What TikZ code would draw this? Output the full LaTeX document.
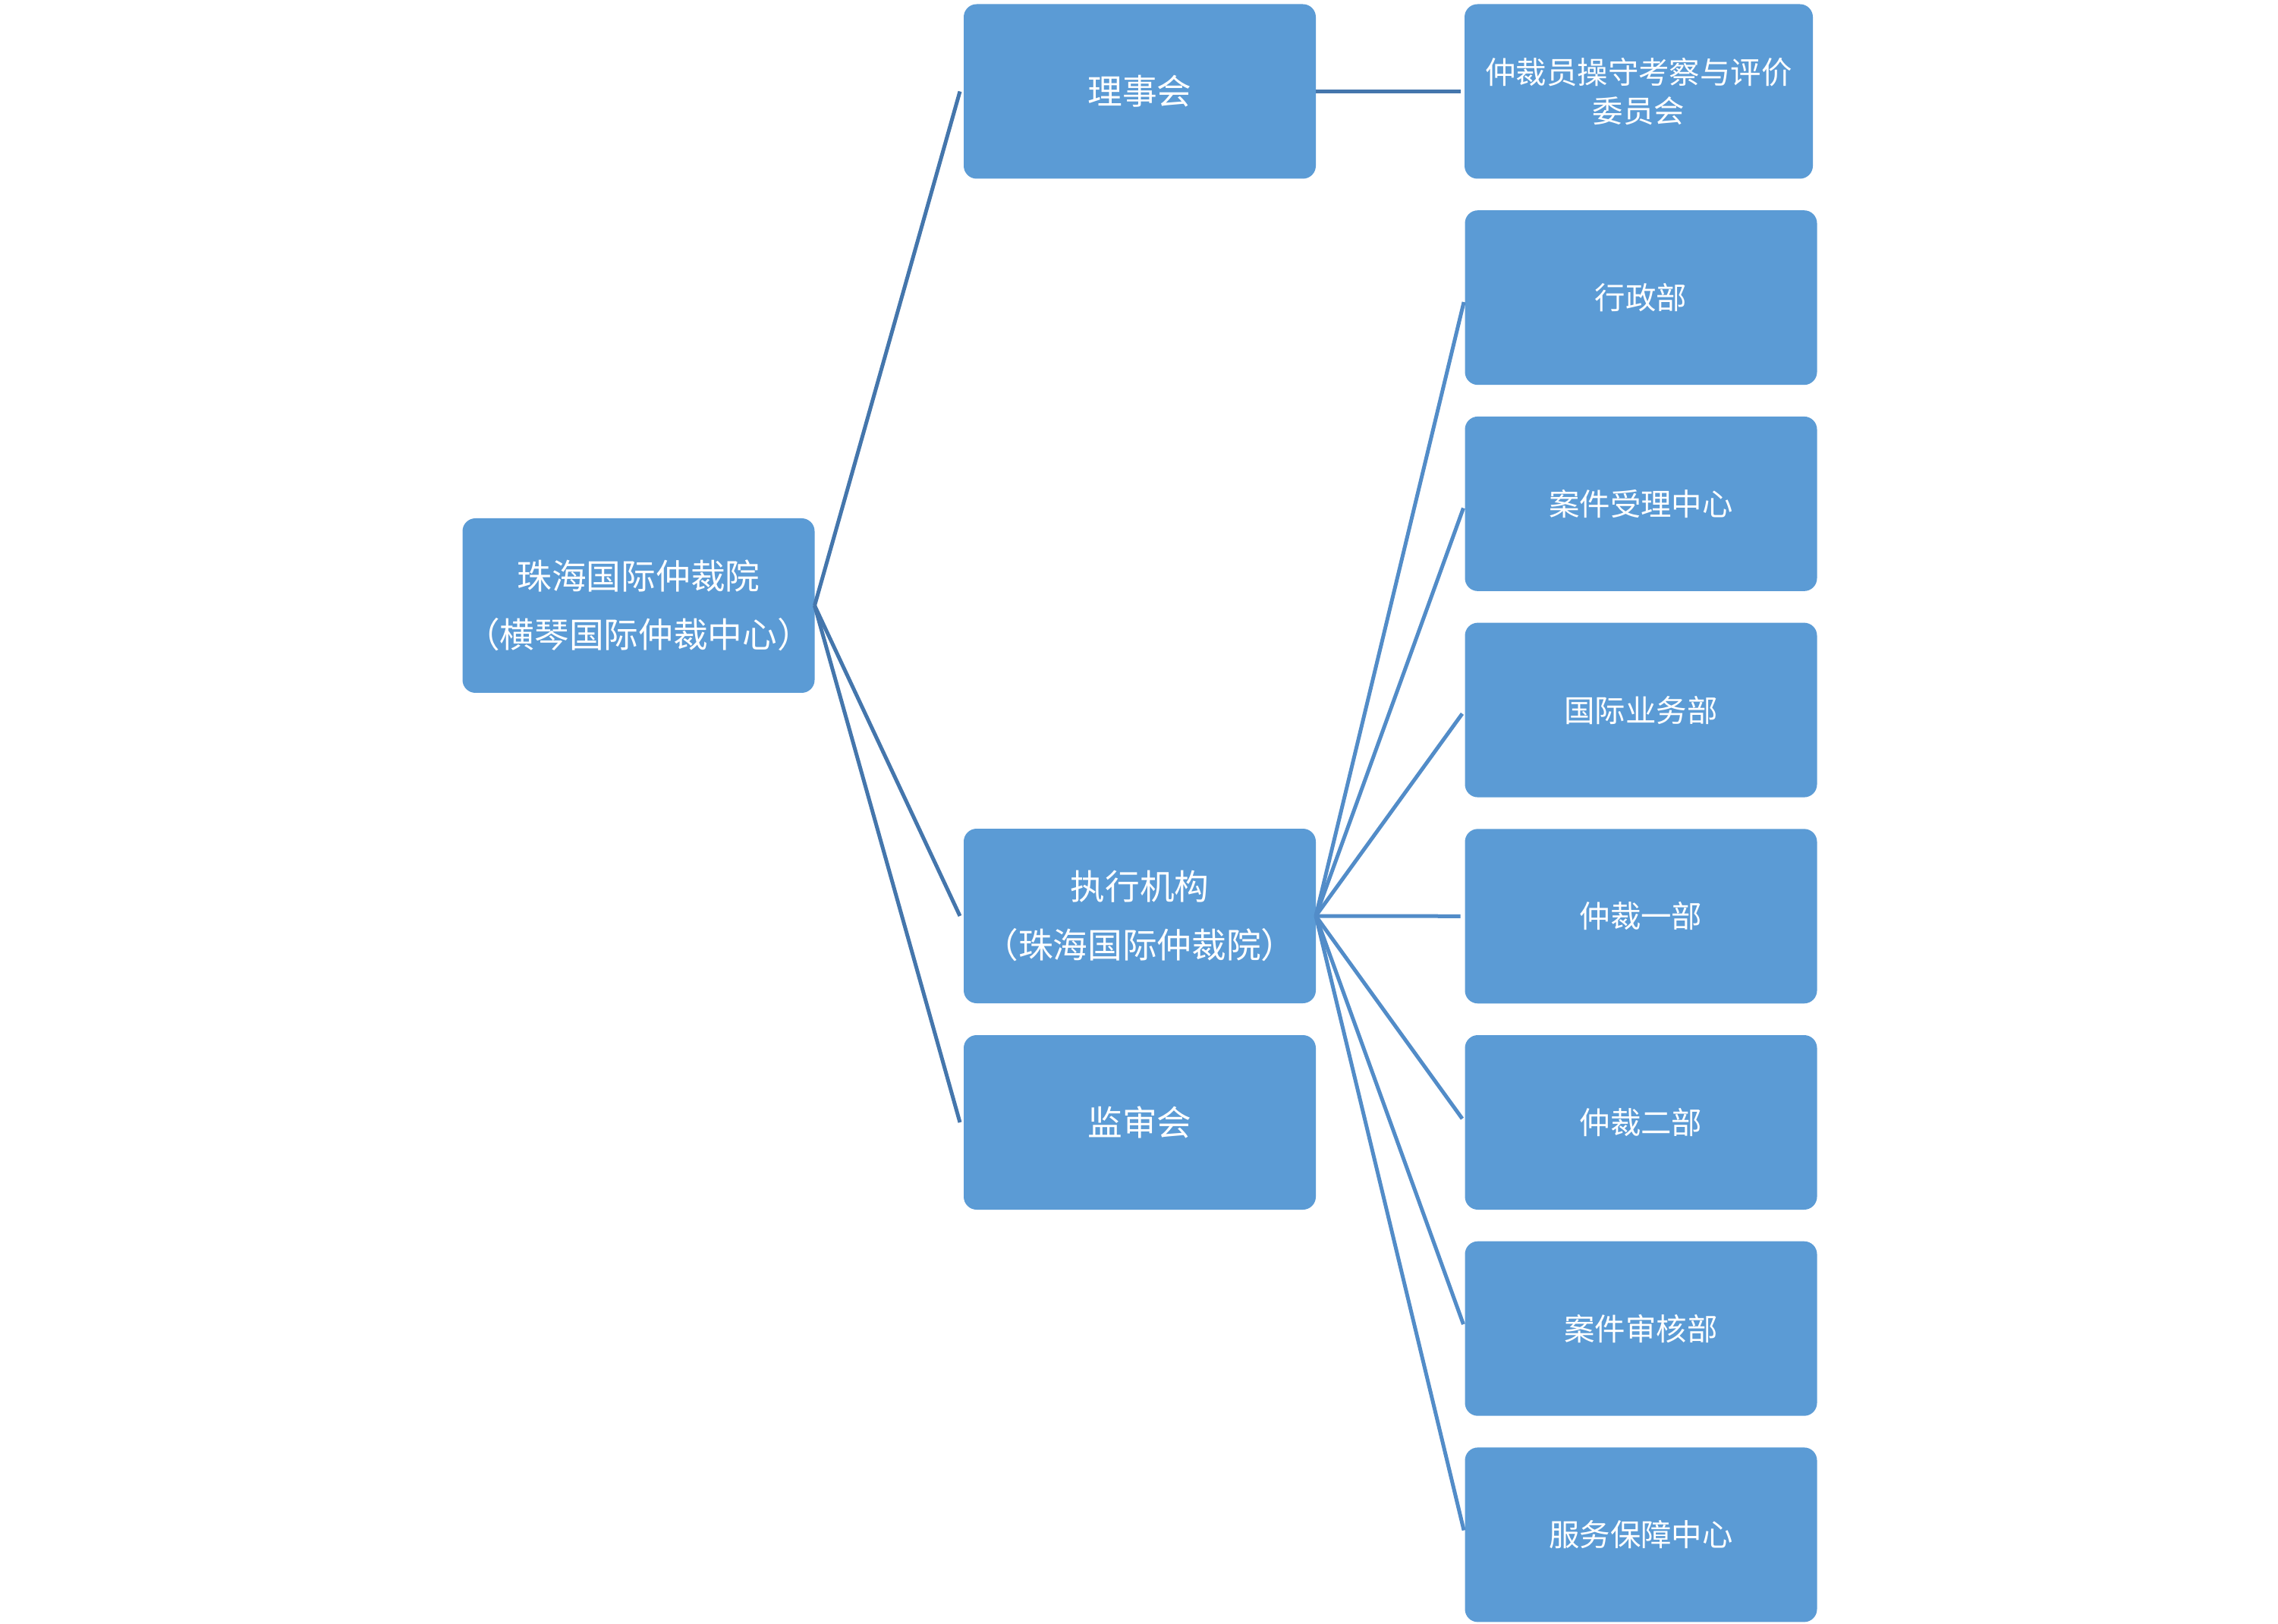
\documentclass[tikz,border=0pt]{standalone}
\usepackage{fontspec}
\setmainfont[RawFeature=+halt]{Noto Sans CJK SC}
\usepackage{xcolor}
\usepackage{tikz}
\usetikzlibrary{positioning}
\definecolor{boxfill}{RGB}{91,155,213}
\definecolor{rootline}{RGB}{68,118,172}
\definecolor{execline}{RGB}{82,140,200}

\tikzset{
  unitbox/.style={draw=none,fill=boxfill,rounded corners=0.17cm,
    minimum width=4.64cm,minimum height=2.30cm,inner sep=2pt,outer sep=0pt,
    align=center,text=white},
  midbox/.style={unitbox,font=\fontsize{13}{21.8}\selectfont},
  deptbox/.style={unitbox,font=\fontsize{11.5}{14.5}\selectfont},
  linkrule/.style={rootline,line width=0.05cm},
  deptrule/.style={execline,line width=0.05cm,shorten >=0.06cm}
}

\begin{document}
\begin{tikzpicture}
    \useasboundingbox (0,0) rectangle (30.02,-21.40);
    % root and middle column
    \node[midbox] (root) at (8.415,-7.98) {珠海国际仲裁院\\（横琴国际仲裁中心）};
    \node[midbox] (board) at (15.02,-1.205) {理事会};
    \node[midbox] (exec) at (15.02,-12.07) {执行机构\\（珠海国际仲裁院）};
    \node[midbox] (audit) at (15.02,-14.79) {监审会};
    % right column
    \node[deptbox,minimum width=4.59cm] (review) at (21.595,-1.205) {仲裁员操守考察与评价\\委员会};
    \node[deptbox] (admin) at (21.625,-3.922) {行政部};
    \node[deptbox,below=0.417cm of admin] (intake) {案件受理中心};
    \node[deptbox,below=0.417cm of intake] (intl) {国际业务部};
    \node[deptbox,below=0.417cm of intl] (arbone) {仲裁一部};
    \node[deptbox,below=0.417cm of arbone] (arbtwo) {仲裁二部};
    \node[deptbox,below=0.417cm of arbtwo] (check) {案件审核部};
    \node[deptbox,below=0.417cm of check] (service) {服务保障中心};
    % connectors
    \draw[linkrule] (root.east) -- ([xshift=-0.05cm]board.west);
    \draw[linkrule] (root.east) -- ([xshift=-0.05cm]exec.west);
    \draw[linkrule] (root.east) -- ([xshift=-0.05cm]audit.west);
    \draw[linkrule] (board.east) -- ([xshift=-0.05cm]review.west);
    \draw[deptrule] (exec.east) -- (admin.west);
    \draw[deptrule] (exec.east) -- (intake.west);
    \draw[deptrule] (exec.east) -- (intl.west);
    \draw[deptrule] (exec.east) -- (arbone.west);
    \draw[deptrule] (exec.east) -- (arbtwo.west);
    \draw[deptrule] (exec.east) -- (check.west);
    \draw[deptrule] (exec.east) -- (service.west);
  \end{tikzpicture}
\end{document}
